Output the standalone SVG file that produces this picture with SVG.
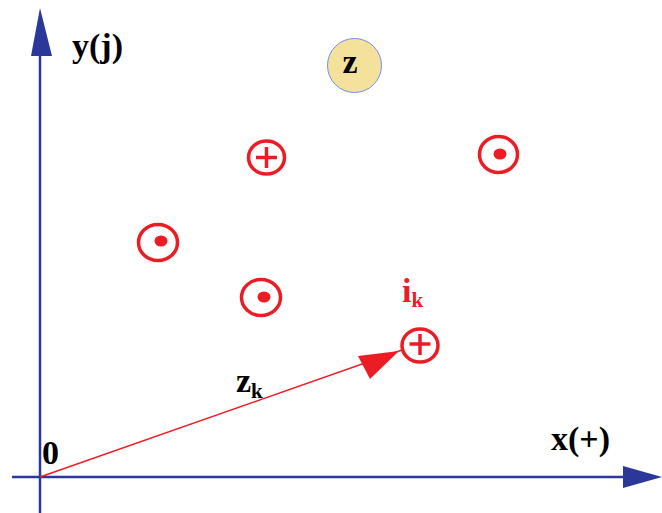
<svg xmlns="http://www.w3.org/2000/svg" width="662" height="513" viewBox="0 0 662 513">
<style>
.axis{stroke:#2b3899;stroke-width:2.5;fill:none}
.axhead{fill:#2b3899}
.src{fill:none;stroke:#ec1c24;stroke-width:3.5}
.dot{fill:#ec1c24}
.lbl{font-family:"Liberation Serif","Times New Roman",serif;font-weight:bold;font-size:34px;fill:#000}
.sub{font-family:"Liberation Serif","Times New Roman",serif;font-weight:bold;font-size:21px}
.red{fill:#ec1c24}
</style>
<rect width="662" height="513" fill="#fff"/>
<g id="axes">
  <line class="axis" x1="40" y1="513" x2="40" y2="50"/>
  <polygon class="axhead" points="40,8 31,56 52,56"/>
  <line class="axis" x1="12" y1="477" x2="628" y2="477"/>
  <polygon class="axhead" points="662,477 623,466 623,488"/>
  <text class="lbl" x="72" y="57">y(j)</text>
  <text class="lbl" x="551" y="450">x(+)</text>
  <text class="lbl" x="42" y="464">0</text>
</g>
<g id="connectors">
  <line x1="40" y1="477" x2="402" y2="350" stroke="#ec1c24" stroke-width="1.5"/>
  <polygon class="dot" points="399,351 358,356 370,379"/>
  <text class="lbl" x="236" y="392">z<tspan class="sub" dy="6">k</tspan></text>
</g>
<g id="z">
  <circle cx="354.5" cy="65.5" r="27" fill="#f4e29c" stroke="#6e8ff0" stroke-width="1"/>
  <text class="lbl" x="350" y="73" text-anchor="middle">z</text>
</g>
<g id="plus1">
  <ellipse class="src" cx="266.5" cy="157.5" rx="18" ry="16.5"/>
  <line class="src" x1="256" y1="157.5" x2="277" y2="157.5"/>
  <line class="src" x1="266.5" y1="147" x2="266.5" y2="168"/>
</g>
<g id="dot1">
  <ellipse class="src" cx="498.5" cy="154.5" rx="19" ry="18"/>
  <ellipse class="dot" cx="500" cy="154" rx="6.5" ry="5.5"/>
</g>
<g id="dot2">
  <ellipse class="src" cx="158" cy="242.5" rx="19.5" ry="18"/>
  <ellipse class="dot" cx="161" cy="241" rx="6.5" ry="5.5"/>
</g>
<g id="dot3">
  <ellipse class="src" cx="261" cy="297.5" rx="19.5" ry="18"/>
  <ellipse class="dot" cx="264" cy="297" rx="6.5" ry="5.5"/>
</g>
<g id="ik">
  <ellipse class="src" cx="420" cy="345.5" rx="18" ry="16.5"/>
  <line class="src" x1="409.5" y1="344" x2="430.5" y2="344"/>
  <line class="src" x1="420" y1="334" x2="420" y2="355"/>
  <text class="lbl red" x="402" y="302">i<tspan class="sub" dy="5">k</tspan></text>
</g>
</svg>
